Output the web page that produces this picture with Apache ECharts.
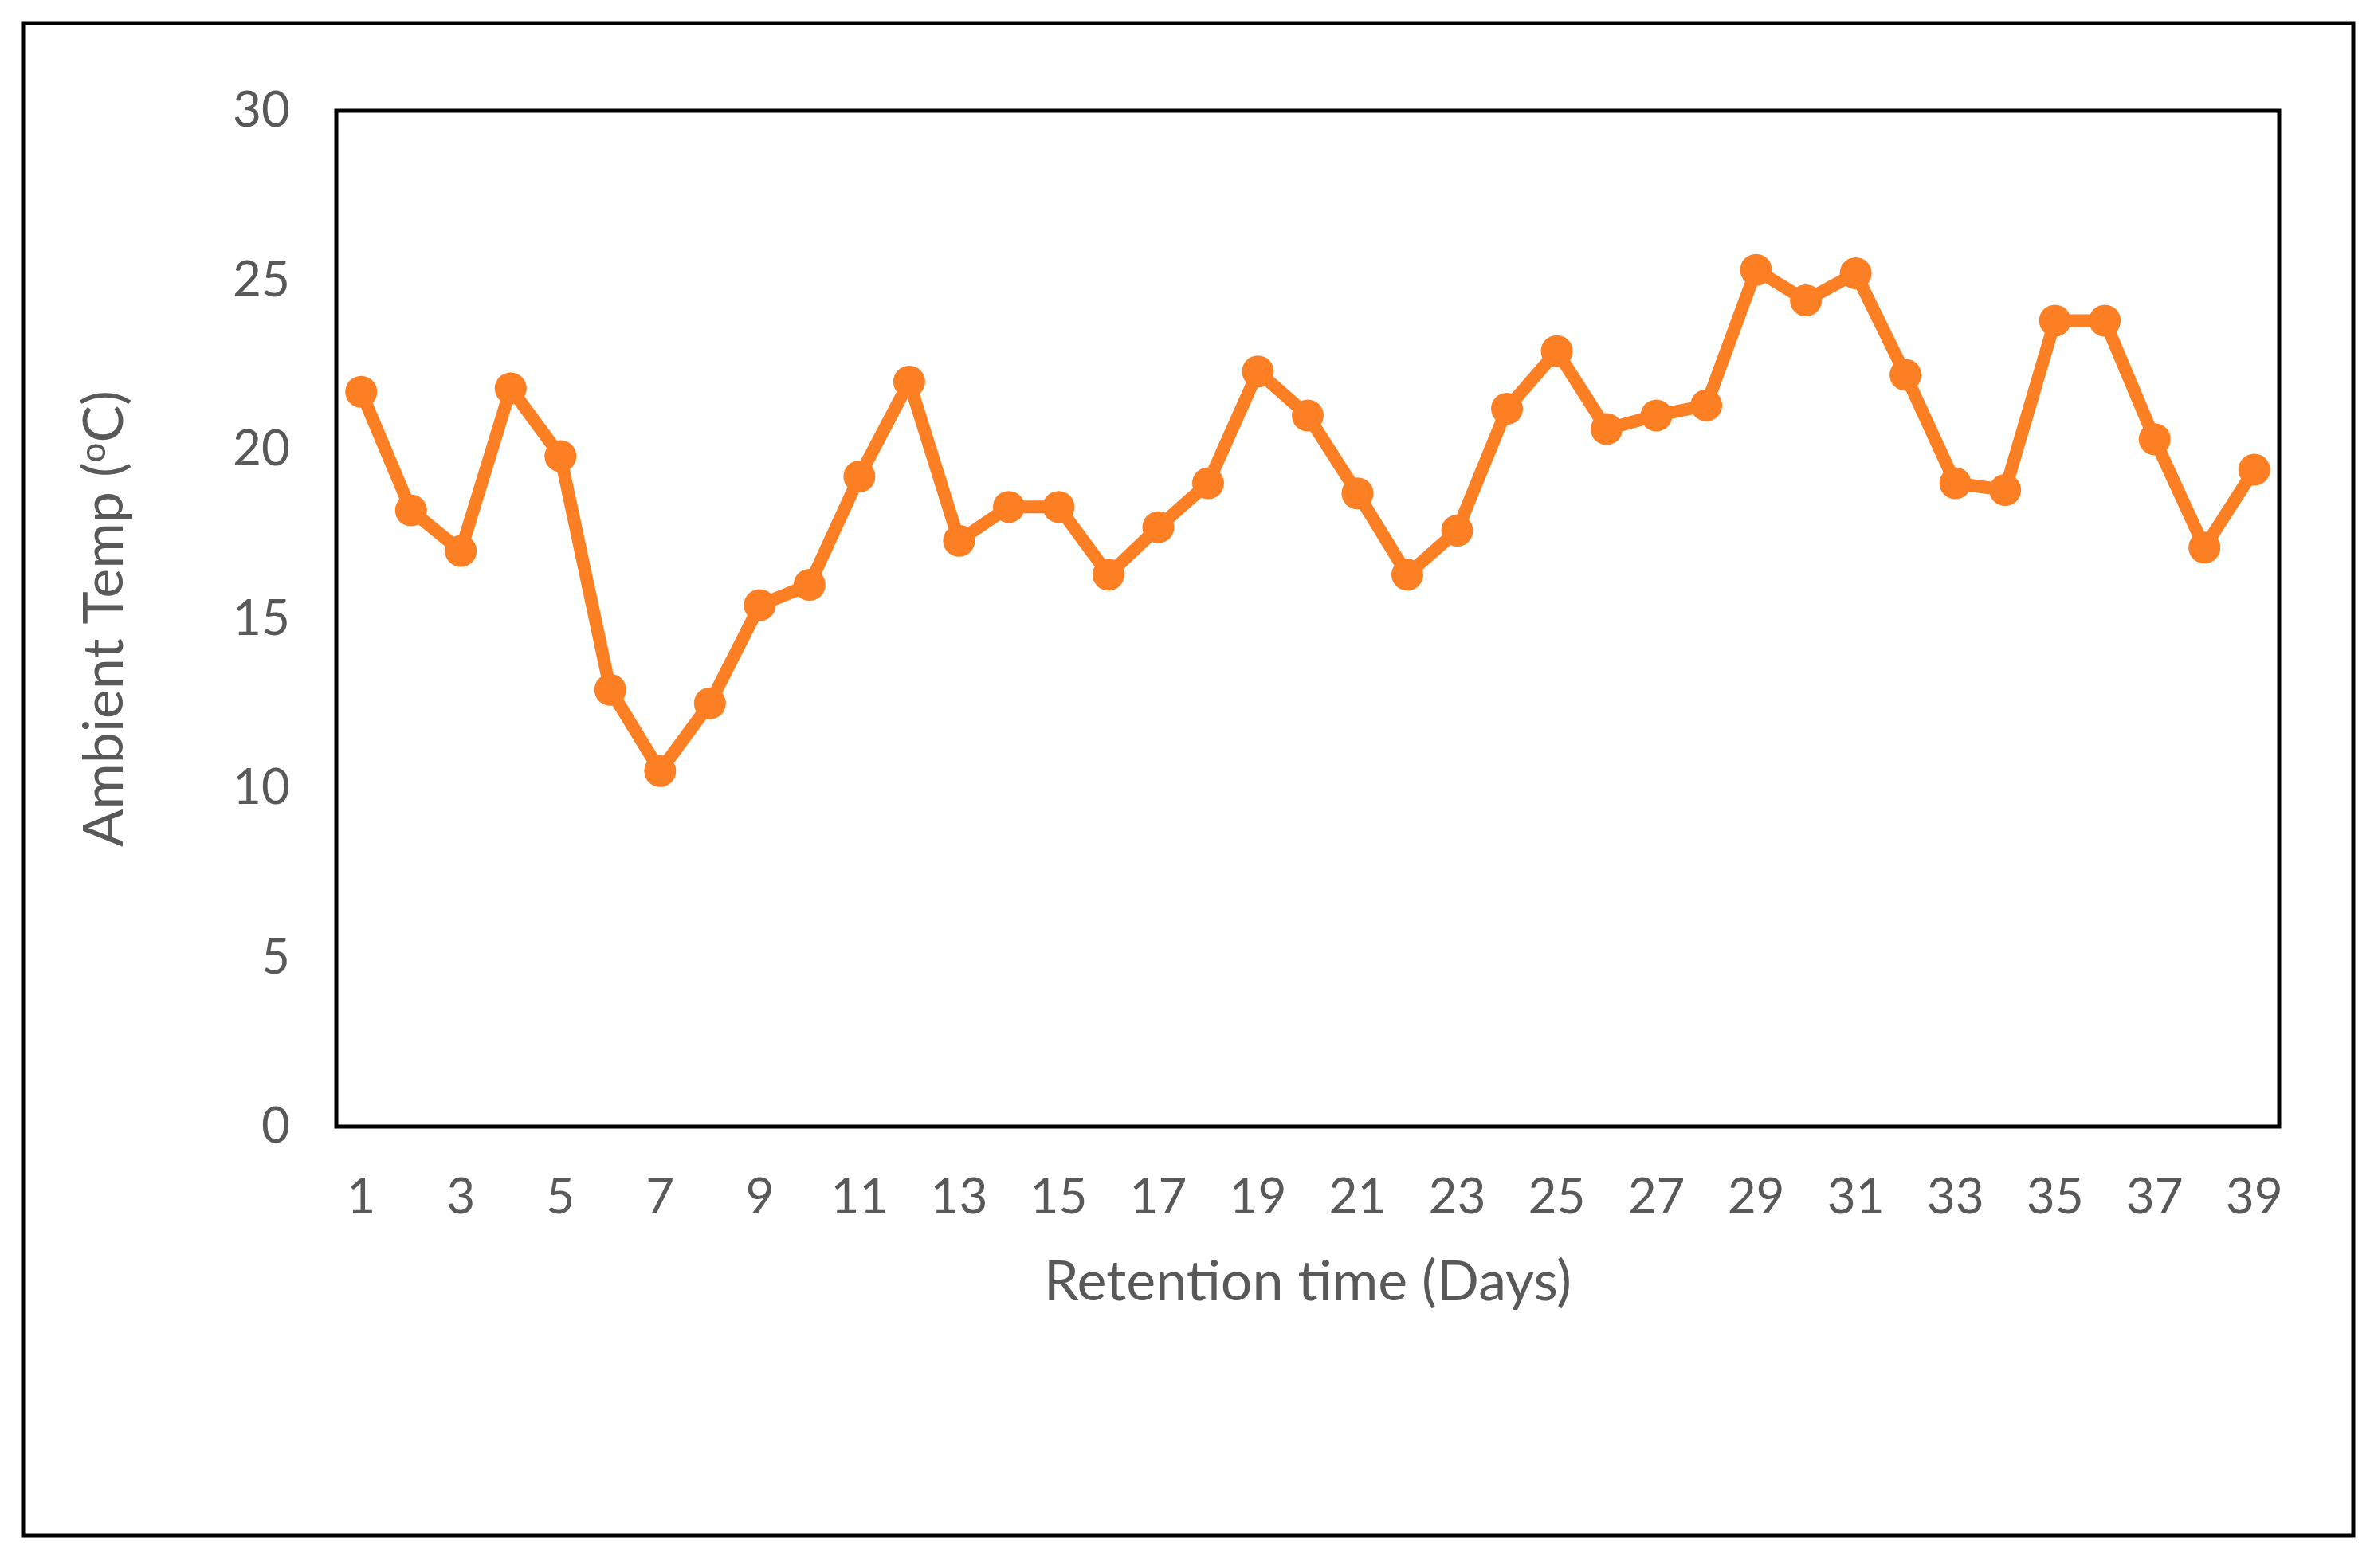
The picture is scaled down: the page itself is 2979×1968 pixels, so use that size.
<!DOCTYPE html>
<html>
<head>
<meta charset="utf-8">
<script src="https://cdn.jsdelivr.net/npm/echarts@6/dist/echarts.min.js"></script>
<style>
html,body{margin:0;padding:0;background:#fff;}
#chart{width:2979px;height:1968px;}
</style>
</head>
<body>
<div id="chart"></div>
<script>
// Retention time (days) categories
var days = [];
for (var d = 1; d <= 39; d++) days.push(String(d));

// Ambient temperature (°C)
var ambientTemp = [21.7, 18.2, 17.0, 21.8, 19.8, 12.9, 10.5, 12.5, 15.4, 16.0,
                   19.2, 22.0, 17.3, 18.3, 18.3, 16.3, 17.7, 19.0, 22.3, 21.0,
                   18.7, 16.3, 17.6, 21.2, 22.9, 20.6, 21.0, 21.3, 25.3, 24.4,
                   25.2, 22.2, 19.0, 18.8, 23.8, 23.8, 20.3, 17.1, 19.4];

var yMin = 0, yMax = 30, yStep = 5;

var chart = echarts.init(document.getElementById('chart'), null, {renderer: 'canvas'});
var labelColor = '#595959';
var fontFam = 'Lato, "Open Sans", sans-serif';

chart.setOption({
  animation: false,
  backgroundColor: '#fff',
  graphic: [{
    type: 'rect',
    shape: {x: 29, y: 29, width: 2924, height: 1898},
    style: {fill: 'none', stroke: '#000', lineWidth: 5}
  }],
  grid: {
    left: 422, top: 139, right: 119, bottom: 554,
    show: true, borderColor: '#000', borderWidth: 5, backgroundColor: '#fff'
  },
  xAxis: {
    type: 'category',
    data: days,
    boundaryGap: true,
    axisLine: {show: false},
    axisTick: {show: false},
    axisLabel: {interval: 1, color: labelColor, fontSize: 62, fontFamily: fontFam, margin: 58},
    name: 'Retention time (Days)',
    nameLocation: 'middle',
    nameGap: 160,
    nameTextStyle: {color: labelColor, fontSize: 70, fontFamily: fontFam}
  },
  yAxis: {
    type: 'value',
    min: yMin, max: yMax, interval: yStep,
    axisLine: {show: false},
    axisTick: {show: false},
    splitLine: {show: false},
    axisLabel: {color: labelColor, fontSize: 62, fontFamily: fontFam, margin: 58},
    name: 'Ambient Temp ({sup|o}C)',
    nameLocation: 'middle',
    nameGap: 256,
    nameRotate: 90,
    nameTextStyle: {
      color: labelColor, fontSize: 70, fontFamily: fontFam,
      rich: {
        sup: {color: labelColor, fontSize: 44, fontFamily: fontFam, verticalAlign: 'top', padding: [0, 0, 26, 0]}
      }
    }
  },
  series: [{
    type: 'line',
    data: ambientTemp,
    symbol: 'circle',
    symbolSize: 40,
    lineStyle: {color: '#FD7F23', width: 16},
    itemStyle: {color: '#FD7F23'}
  }]
});
</script>
</body>
</html>
